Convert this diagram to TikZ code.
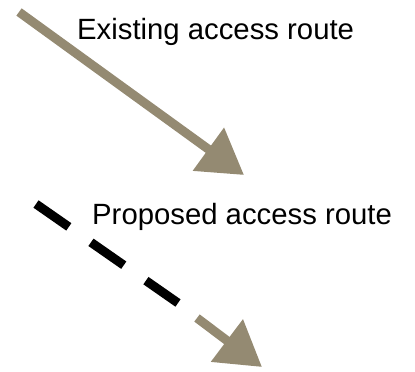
\documentclass[tikz,border=0pt]{standalone}
\usepackage{fontspec}
\setmainfont{Liberation Sans}
\usepackage{tikz}
\usetikzlibrary{arrows.meta}
\definecolor{routetan}{RGB}{148,138,114}

\begin{document}
\begin{tikzpicture}
  [x=1pt,y=-1pt,
   label/.style={anchor=base west,inner sep=0pt,font=\fontsize{29.3}{32}\selectfont},
   route/.style={line width=9pt,color=routetan,-{Triangle[length=44pt,width=51pt]}},
   newroute/.style={line width=9pt,black,dash pattern=on 40pt off 27pt}]
  \useasboundingbox (0,0) rectangle (415,372);
  \coordinate (e1) at (19,12);
  \coordinate (e2) at (244,175);
  \coordinate (p1) at (36,204);
  \coordinate (p2) at (178,303);
  \coordinate (p3) at (197,318);
  \coordinate (p4) at (262,367);
  \node[label] (existing) at (77,39) {Existing access route};
  \node[label] (proposed) at (92,224) {Proposed access route};
  \draw[route] (e1) -- (e2);
  \draw[newroute] (p1) -- (p2);
  \draw[route] (p3) -- (p4);
\end{tikzpicture}
\end{document}
